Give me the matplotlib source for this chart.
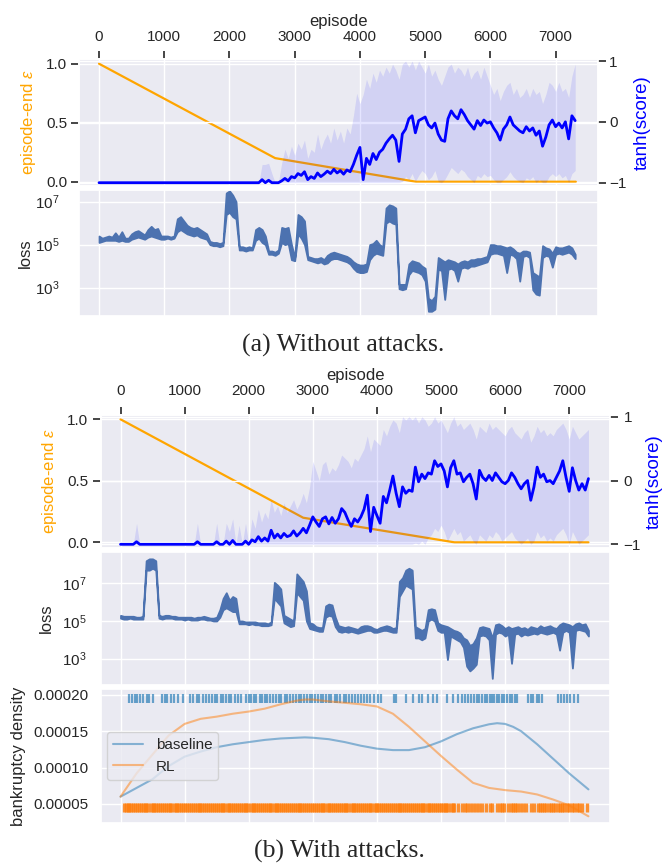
import numpy as np
import matplotlib
matplotlib.use('Agg')
import matplotlib.pyplot as plt
import seaborn as sns
from matplotlib.ticker import FormatStrFormatter, NullLocator

sns.set_theme(style='darkgrid')
plt.rcParams['font.family'] = ['Liberation Sans', 'DejaVu Sans']
plt.rcParams['mathtext.fontset'] = 'custom'
plt.rcParams['mathtext.rm'] = 'Liberation Sans'
plt.rcParams['mathtext.it'] = 'Liberation Sans:italic'

# episode grid shared by all per-episode series (one sample every 50 episodes)
EPISODES = np.arange(0, 7301, 50)
XTICKS = [0, 1000, 2000, 3000, 4000, 5000, 6000, 7000]

# ---------------- (a) without attacks ----------------
eps_a_ep = [0, 2700, 4860, 7310]
eps_a_val = [1.0, 0.2, 0.0, 0.0]

score_a = [
    -1.0, -1.0, -1.0, -1.0, -1.0, -1.0, -1.0, -1.0, -1.0, -1.0,
    -1.0, -1.0, -1.0, -1.0, -1.0, -1.0, -1.0, -1.0, -1.0, -1.0,
    -1.0, -1.0, -1.0, -1.0, -1.0, -1.0, -1.0, -1.0, -1.0, -1.0,
    -1.0, -1.0, -1.0, -1.0, -1.0, -1.0, -1.0, -1.0, -1.0, -1.0,
    -1.0, -1.0, -1.0, -1.0, -1.0, -1.0, -1.0, -1.0, -1.0, -1.0,
    -0.95, -1.0, -0.96, -1.0, -1.0, -1.0, -0.97, -0.93, -0.97, -0.90,
    -0.92, -0.85, -0.88, -0.82, -0.95, -0.90, -0.93, -0.84, -0.90, -0.86,
    -0.81, -0.85, -0.78, -0.84, -0.80, -0.86, -0.79, -0.82, -0.70, -0.55,
    -0.42, -0.95, -0.60, -0.70, -0.52, -0.62, -0.50, -0.45, -0.35, -0.28,
    -0.22, -0.30, -0.65, -0.20, -0.12, 0.05, 0.10, -0.18, 0.02, 0.05,
    0.08, -0.05, -0.10, -0.02, -0.20, -0.30, -0.32, 0.05, 0.18, 0.10,
    0.05, 0.20, 0.12, 0.02, -0.05, -0.12, 0.02, -0.06, 0.03, -0.02,
    0.00, -0.10, -0.18, -0.30, -0.12, -0.05, 0.08, -0.05, -0.10, -0.15,
    -0.18, -0.08, -0.15, -0.10, -0.22, -0.15, -0.40, -0.25, -0.05, 0.03,
    -0.08, -0.02, -0.10, 0.00, -0.28, 0.10, 0.02,
]
score_a_hi = [
    -1.0, -1.0, -1.0, -1.0, -1.0, -1.0, -1.0, -1.0, -1.0, -1.0,
    -1.0, -1.0, -1.0, -1.0, -1.0, -1.0, -1.0, -1.0, -1.0, -1.0,
    -1.0, -1.0, -1.0, -1.0, -1.0, -1.0, -1.0, -1.0, -1.0, -1.0,
    -1.0, -1.0, -1.0, -1.0, -1.0, -1.0, -1.0, -1.0, -1.0, -1.0,
    -1.0, -1.0, -1.0, -1.0, -1.0, -1.0, -1.0, -1.0, -1.0, -1.0,
    -0.70, -0.70, -0.68, -0.85, -1.0, -1.0, -0.68, -0.45, -0.60, -0.40,
    -0.55, -0.35, -0.45, -0.30, -0.60, -0.45, -0.50, -0.20, -0.45, -0.30,
    -0.20, -0.35, -0.10, -0.30, -0.15, -0.35, -0.10, -0.20, 0.10, 0.47,
    0.30, 0.45, 0.70, 0.55, 0.80, 0.65, 0.85, 0.75, 0.90, 0.80,
    0.95, 0.85, 0.70, 0.95, 1.00, 0.90, 1.00, 0.85, 1.00, 0.90,
    0.80, 0.95, 0.75, 0.85, 0.70, 0.60, 0.75, 0.90, 0.95, 0.80,
    0.90, 0.85, 0.75, 0.90, 0.70, 0.80, 0.85, 0.70, 0.90, 0.75,
    0.60, 0.45, 0.55, 0.35, 0.50, 0.60, 0.65, 0.45, 0.55, 0.40,
    0.45, 0.55, 0.40, 0.55, 0.45, 0.50, 0.30, 0.45, 0.65, 0.60,
    0.50, 0.65, 0.50, 0.55, 0.40, 0.75, 0.95,
]
score_a_lo = [
    -1.0, -1.0, -1.0, -1.0, -1.0, -1.0, -1.0, -1.0, -1.0, -1.0,
    -1.0, -1.0, -1.0, -1.0, -1.0, -1.0, -1.0, -1.0, -1.0, -1.0,
    -1.0, -1.0, -1.0, -1.0, -1.0, -1.0, -1.0, -1.0, -1.0, -1.0,
    -1.0, -1.0, -1.0, -1.0, -1.0, -1.0, -1.0, -1.0, -1.0, -1.0,
    -1.0, -1.0, -1.0, -1.0, -1.0, -1.0, -1.0, -1.0, -1.0, -1.0,
    -1.0, -1.0, -1.0, -1.0, -1.0, -1.0, -1.0, -1.0, -1.0, -1.0,
    -1.0, -1.0, -1.0, -1.0, -1.0, -1.0, -1.0, -1.0, -1.0, -1.0,
    -1.0, -1.0, -1.0, -1.0, -1.0, -1.0, -1.0, -1.0, -1.0, -1.0,
    -1.0, -1.0, -1.0, -1.0, -1.0, -1.0, -1.0, -1.0, -1.0, -1.0,
    -1.00, -1.00, -1.00, -0.98, -0.90, -0.95, -0.85, -0.98, -0.88, -0.80,
    -0.85, -0.95, -0.90, -0.80, -0.98, -1.00, -0.95, -0.85, -0.75, -0.80,
    -0.85, -0.78, -0.82, -0.90, -0.95, -1.00, -0.88, -0.92, -0.85, -0.90,
    -0.88, -0.95, -1.00, -1.00, -0.95, -0.90, -0.82, -0.90, -0.95, -0.98,
    -1.00, -0.92, -0.95, -0.90, -1.00, -0.95, -1.00, -1.00, -0.90, -0.85,
    -0.90, -0.85, -0.92, -0.88, -1.00, -0.85, -0.80,
]

# log10(loss): lower / upper envelope of the noisy trace
loss_a_lo = [
    5.10, 5.15, 5.20, 5.20, 5.20, 5.20, 5.15, 5.20, 5.15, 5.15,
    5.25, 5.30, 5.35, 5.30, 5.25, 5.35, 5.40, 5.35, 5.30, 5.25,
    5.25, 5.30, 5.25, 5.30, 5.60, 5.70, 5.60, 5.50, 5.45, 5.40,
    5.45, 5.35, 5.30, 5.25, 5.00, 4.95, 4.95, 4.90, 4.95, 6.40,
    6.50, 6.30, 6.20, 4.75, 4.75, 4.70, 4.75, 4.75, 5.20, 5.30,
    5.10, 5.00, 4.55, 4.55, 4.50, 4.60, 5.10, 5.00, 5.05, 4.30,
    4.25, 5.50, 5.30, 5.00, 4.30, 4.25, 4.20, 4.15, 4.20, 4.10,
    4.15, 4.30, 4.35, 4.35, 4.30, 4.25, 4.20, 4.10, 3.90, 3.75,
    3.70, 3.70, 3.75, 4.30, 4.50, 4.60, 4.55, 4.50, 6.00, 6.10,
    6.00, 5.95, 2.95, 2.90, 2.95, 3.60, 3.80, 3.75, 3.70, 3.60,
    3.30, 1.90, 1.90, 2.00, 3.85, 3.80, 2.45, 3.85, 3.90, 3.80,
    3.30, 3.90, 3.95, 3.90, 4.00, 4.00, 4.05, 4.10, 4.15, 4.20,
    4.55, 4.60, 4.60, 4.55, 4.50, 3.70, 4.55, 4.50, 4.35, 3.30,
    4.45, 4.50, 4.40, 2.90, 2.70, 2.65, 4.40, 4.50, 4.45, 3.95,
    4.55, 4.60, 4.55, 4.60, 4.65, 4.55, 4.35,
]
loss_a_hi = [
    5.40, 5.30, 5.35, 5.40, 5.35, 5.55, 5.35, 5.60, 5.30, 5.30,
    5.50, 5.60, 5.65, 5.55, 5.45, 5.70, 5.85, 5.70, 5.75, 5.40,
    5.40, 5.40, 5.35, 5.40, 6.20, 6.30, 6.10, 5.90, 5.80, 5.75,
    5.80, 5.70, 5.60, 5.50, 5.15, 5.10, 5.10, 5.05, 5.10, 7.40,
    7.50, 7.30, 7.00, 4.90, 4.90, 4.85, 4.90, 4.85, 5.70, 5.80,
    5.70, 5.40, 4.70, 4.70, 4.65, 4.75, 5.80, 5.75, 5.80, 5.00,
    4.40, 6.40, 6.30, 6.10, 4.45, 4.40, 4.35, 4.35, 4.40, 4.30,
    4.50, 4.60, 4.65, 4.60, 4.55, 4.50, 4.45, 4.35, 4.20, 4.10,
    4.05, 4.05, 4.10, 5.00, 5.05, 5.20, 5.00, 4.90, 6.70, 6.85,
    6.80, 6.70, 3.15, 3.15, 3.15, 4.10, 4.25, 4.20, 4.15, 4.00,
    3.90, 2.50, 2.40, 2.60, 4.40, 4.30, 4.20, 4.30, 4.25, 4.20,
    4.10, 4.20, 4.25, 4.20, 4.30, 4.30, 4.35, 4.35, 4.40, 4.45,
    5.00, 5.00, 4.95, 4.95, 4.90, 4.85, 4.90, 4.80, 4.65, 4.60,
    4.70, 4.70, 4.65, 3.70, 3.60, 3.50, 4.95, 4.85, 4.80, 4.60,
    4.90, 4.85, 4.85, 4.90, 4.95, 4.85, 4.55,
]

# ---------------- (b) with attacks ----------------
eps_b_ep = [0, 2850, 5210, 7300]
eps_b_val = [1.0, 0.2, 0.0, 0.0]

score_b = [
    -1.0, -1.0, -1.0, -1.0, -1.0, -0.96, -1.0, -1.0, -1.0, -1.0,
    -1.0, -1.0, -1.0, -1.0, -1.0, -1.0, -1.0, -1.0, -1.0, -1.0,
    -1.0, -1.0, -1.0, -1.0, -0.96, -1.0, -1.0, -1.0, -1.0, -1.0,
    -0.96, -1.0, -1.0, -0.95, -1.0, -0.94, -1.0, -1.0, -1.0, -0.95,
    -1.0, -0.93, -0.96, -0.88, -0.95, -0.90, -0.95, -0.78, -0.90, -0.84,
    -0.90, -0.83, -0.88, -0.86, -0.79, -0.87, -0.82, -0.75, -0.82, -0.70,
    -0.57, -0.65, -0.72, -0.60, -0.57, -0.68, -0.58, -0.67, -0.60, -0.44,
    -0.50, -0.62, -0.72, -0.60, -0.65, -0.57, -0.45, -0.23, -0.80, -0.42,
    -0.55, -0.67, -0.25, -0.35, -0.15, 0.07, -0.20, -0.41, -0.10, -0.20,
    -0.15, -0.17, 0.21, -0.02, 0.10, 0.03, 0.12, 0.10, 0.31, 0.22,
    0.26, 0.15, -0.10, 0.20, 0.31, 0.10, 0.12, -0.02, 0.05, 0.10,
    -0.05, -0.29, 0.16, 0.05, 0.00, 0.08, 0.00, 0.12, 0.05, -0.02,
    -0.05, 0.00, 0.12, 0.05, -0.05, -0.13, -0.05, 0.00, -0.31, -0.10,
    0.21, 0.05, 0.10, -0.02, 0.00, -0.05, 0.05, 0.15, 0.31, 0.05,
    -0.17, 0.20, 0.00, -0.15, -0.05, -0.15, 0.03,
]
score_b_hi = [
    -1.0, -1.0, -1.0, -1.0, -1.0, -0.67, -1.0, -1.0, -1.0, -1.0,
    -1.0, -1.0, -1.0, -1.0, -1.0, -1.0, -1.0, -1.0, -1.0, -1.0,
    -1.0, -1.0, -1.0, -1.0, -0.67, -1.0, -1.0, -1.0, -1.0, -1.0,
    -0.67, -1.0, -1.0, -0.67, -0.80, -0.60, -1.0, -0.70, -1.0, -0.67,
    -1.0, -0.60, -0.75, -0.45, -0.65, -0.50, -0.60, -0.30, -0.50, -0.40,
    -0.55, -0.35, -0.50, -0.40, -0.30, -0.45, -0.35, -0.20, -0.35, -0.10,
    0.30, 0.15, 0.00, 0.25, 0.30, 0.10, 0.20, 0.15, 0.25, 0.40,
    0.35, 0.30, 0.20, 0.35, 0.30, 0.40, 0.50, 0.70, 0.45, 0.65,
    0.60, 0.55, 0.80, 0.70, 0.85, 0.95, 0.90, 0.75, 1.00, 0.95,
    1.00, 0.95, 1.00, 0.90, 1.00, 0.95, 0.85, 0.90, 1.00, 0.90,
    0.95, 0.85, 0.75, 0.90, 1.00, 0.85, 0.90, 0.80, 0.85, 0.90,
    0.80, 0.65, 0.85, 0.80, 0.75, 0.90, 0.80, 0.85, 0.80, 0.75,
    0.70, 0.80, 0.85, 0.75, 0.70, 0.65, 0.75, 0.80, 0.60, 0.70,
    0.85, 0.75, 0.80, 0.70, 0.75, 0.70, 0.80, 0.85, 0.90, 0.80,
    0.65, 0.85, 0.75, 0.65, 0.70, 0.75, 0.80,
]
score_b_lo = [
    -1.0, -1.0, -1.0, -1.0, -1.0, -1.0, -1.0, -1.0, -1.0, -1.0,
    -1.0, -1.0, -1.0, -1.0, -1.0, -1.0, -1.0, -1.0, -1.0, -1.0,
    -1.0, -1.0, -1.0, -1.0, -1.0, -1.0, -1.0, -1.0, -1.0, -1.0,
    -1.0, -1.0, -1.0, -1.0, -1.0, -1.0, -1.0, -1.0, -1.0, -1.0,
    -1.0, -1.0, -1.0, -1.0, -1.0, -1.0, -1.0, -1.0, -1.0, -1.0,
    -1.0, -1.0, -1.0, -1.0, -1.0, -1.0, -1.0, -1.0, -1.0, -1.0,
    -1.0, -1.0, -1.0, -1.0, -1.0, -1.0, -1.0, -1.0, -1.0, -1.0,
    -1.0, -1.0, -1.0, -1.0, -1.0, -1.0, -1.0, -1.0, -1.0, -1.0,
    -1.0, -1.0, -1.0, -1.0, -1.0, -1.0, -1.0, -1.0, -1.0, -1.0,
    -1.00, -1.00, -0.98, -1.00, -0.95, -1.00, -0.90, -0.85, -0.75, -0.80,
    -0.70, -0.80, -0.95, -0.85, -0.75, -0.85, -0.80, -0.95, -0.90, -0.85,
    -0.95, -1.00, -0.85, -0.90, -0.95, -0.85, -0.90, -0.80, -0.85, -0.95,
    -0.90, -0.85, -0.80, -0.90, -0.95, -1.00, -0.95, -0.90, -1.00, -0.95,
    -0.80, -0.90, -0.85, -0.95, -0.90, -0.95, -0.85, -0.80, -0.75, -0.85,
    -1.00, -0.80, -0.90, -1.00, -0.95, -0.90, -0.85,
]

loss_b_lo = [
    5.15, 5.10, 5.10, 5.15, 5.10, 5.10, 5.10, 5.10, 7.70, 7.70,
    7.80, 7.70, 5.15, 5.10, 5.15, 5.15, 5.15, 5.10, 5.10, 5.10,
    5.05, 5.10, 5.05, 5.05, 5.05, 5.10, 5.10, 5.05, 5.05, 5.00,
    5.00, 5.20, 5.60, 5.70, 5.60, 5.50, 5.50, 4.85, 4.85, 4.85,
    4.80, 4.85, 4.80, 4.80, 4.75, 4.75, 4.75, 4.80, 6.20, 6.00,
    5.80, 4.90, 4.80, 4.70, 4.75, 6.50, 6.30, 6.10, 5.00, 4.60,
    4.55, 4.50, 4.45, 4.45, 5.20, 5.30, 5.25, 4.70, 4.45, 4.40,
    4.45, 4.40, 4.45, 4.40, 4.35, 4.40, 4.45, 4.50, 4.50, 4.40,
    4.40, 4.45, 4.50, 4.50, 4.45, 4.40, 4.40, 6.30, 6.60, 6.90,
    6.80, 6.70, 4.10, 4.10, 4.00, 4.10, 5.00, 5.10, 5.00, 4.50,
    4.40, 4.40, 2.95, 4.20, 4.10, 4.00, 3.90, 3.60, 2.60, 2.35,
    2.50, 2.70, 4.20, 4.25, 4.20, 4.00, 1.95, 4.30, 4.40, 4.35,
    4.20, 4.30, 2.75, 4.30, 4.35, 4.20, 4.30, 4.25, 4.30, 4.35,
    4.30, 4.40, 4.35, 4.30, 4.35, 4.40, 4.30, 3.45, 4.40, 4.50,
    4.40, 2.50, 4.50, 4.55, 4.50, 4.45, 4.20,
]
loss_b_hi = [
    5.30, 5.25, 5.25, 5.25, 5.25, 5.20, 5.20, 5.25, 8.20, 8.30,
    8.30, 8.20, 5.30, 5.25, 5.30, 5.30, 5.25, 5.25, 5.20, 5.20,
    5.20, 5.20, 5.20, 5.15, 5.20, 5.20, 5.25, 5.20, 5.15, 5.15,
    5.20, 5.60, 6.20, 6.50, 6.10, 6.30, 6.20, 5.00, 5.00, 4.95,
    4.95, 4.95, 4.95, 4.90, 4.90, 4.90, 4.85, 4.95, 7.05, 6.90,
    6.70, 5.30, 5.20, 5.10, 5.00, 7.50, 7.30, 7.10, 6.60, 4.90,
    4.85, 4.70, 4.65, 4.65, 5.80, 5.90, 5.85, 5.20, 4.75, 4.70,
    4.65, 4.70, 4.65, 4.60, 4.55, 4.70, 4.75, 4.75, 4.70, 4.60,
    4.55, 4.65, 4.70, 4.75, 4.70, 4.60, 4.65, 7.10, 7.30, 7.70,
    7.80, 7.70, 4.70, 4.60, 4.50, 4.60, 5.60, 5.65, 5.60, 4.90,
    4.80, 4.75, 4.70, 4.60, 4.50, 4.45, 4.35, 4.10, 4.00, 3.70,
    3.80, 4.10, 4.65, 4.70, 4.65, 4.60, 4.10, 4.80, 4.85, 4.75,
    4.60, 4.70, 4.60, 4.65, 4.70, 4.60, 4.65, 4.55, 4.70, 4.65,
    4.60, 4.75, 4.65, 4.70, 4.75, 4.65, 4.60, 4.80, 4.90, 4.85,
    4.80, 4.70, 4.85, 4.90, 4.80, 4.85, 4.50,
]

# bankruptcy densities and the episodes where bankruptcies happened
kde_ep = [0, 250, 500, 750, 1000, 1250, 1500, 1750, 2000, 2250, 2500, 2750,
          2875, 3000, 3250, 3500, 3750, 4000, 4250, 4500, 4750, 5000, 5250,
          5500, 5750, 5875, 6000, 6125, 6250, 6500, 6750, 7000, 7300]
kde_baseline = [6.0e-5, 7.2e-5, 8.4e-5, 10.2e-5, 11.5e-5, 12.2e-5, 12.8e-5,
                13.2e-5, 13.5e-5, 13.8e-5, 14.0e-5, 14.1e-5, 14.15e-5, 14.1e-5,
                13.9e-5, 13.5e-5, 13.0e-5, 12.6e-5, 12.4e-5, 12.4e-5, 12.8e-5,
                13.6e-5, 14.6e-5, 15.4e-5, 15.95e-5, 16.1e-5, 16.0e-5, 15.6e-5,
                15.0e-5, 13.2e-5, 11.2e-5, 9.2e-5, 7.0e-5]
kde_rl = [6.0e-5, 9.2e-5, 11.8e-5, 14.4e-5, 16.0e-5, 16.7e-5, 17.0e-5,
          17.4e-5, 17.7e-5, 18.1e-5, 18.7e-5, 19.2e-5, 19.35e-5, 19.35e-5,
          19.1e-5, 18.9e-5, 18.7e-5, 18.4e-5, 17.4e-5, 15.6e-5, 13.6e-5,
          11.6e-5, 9.7e-5, 7.9e-5, 7.2e-5, 7.05e-5, 6.9e-5, 6.8e-5, 6.7e-5,
          6.3e-5, 5.6e-5, 4.8e-5, 3.3e-5]

rug_baseline = [
    140, 180, 230, 260, 300, 350, 420, 450, 510, 640, 690, 730, 790, 830,
    900, 980, 1080, 1130, 1190, 1220, 1290, 1330, 1380, 1420, 1470, 1510,
    1560, 1600, 1650, 1690, 1730, 1780, 1830, 1880, 1950, 2000, 2040, 2080,
    2120, 2170, 2210, 2250, 2290, 2330, 2380, 2420, 2470, 2510, 2560, 2600,
    2640, 2690, 2730, 2780, 2820, 2860, 2910, 2950, 2990, 3030, 3080, 3120,
    3160, 3210, 3250, 3290, 3340, 3380, 3430, 3480, 3520, 3570, 3610, 3660,
    3700, 3750, 3800, 3850, 3900, 3960, 4010, 4060, 4270, 4300, 4450, 4560,
    4650, 4700, 4800, 4870, 4930, 5100, 5180, 5260, 5330, 5380, 5420, 5470,
    5510, 5560, 5600, 5640, 5690, 5720, 5760, 5800, 5830, 5870, 5910, 5950,
    5990, 6030, 6080, 6110, 6150, 6190, 6350, 6400, 6440, 6490, 6530, 6570,
    6820, 6870, 6920, 6970, 7020, 7080, 7130,
]
rug_rl = [
    55, 80, 110, 140, 165, 195, 230, 260, 285, 315, 350, 380, 405, 435, 470,
    500, 525, 555, 590, 620, 645, 675, 710, 740, 765, 795, 830, 860, 885, 915,
    950, 980, 1005, 1035, 1070, 1100, 1125, 1155, 1190, 1220, 1245, 1275,
    1310, 1340, 1365, 1395, 1430, 1460, 1485, 1515, 1550, 1580, 1605, 1635,
    1670, 1700, 1725, 1755, 1790, 1820, 1845, 1875, 1910, 1940, 1965, 1995,
    2030, 2060, 2085, 2115, 2150, 2180, 2205, 2235, 2270, 2300, 2325, 2355,
    2390, 2420, 2445, 2475, 2510, 2540, 2565, 2595, 2630, 2660, 2685, 2715,
    2750, 2780, 2805, 2835, 2870, 2900, 2925, 2955, 2990, 3020, 3045, 3075,
    3110, 3140, 3165, 3195, 3230, 3260, 3285, 3315, 3350, 3380, 3405, 3435,
    3470, 3500, 3525, 3555, 3590, 3620, 3645, 3675, 3710, 3740, 3765, 3795,
    3830, 3860, 3885, 3915, 3950, 3980, 4005, 4035, 4070, 4100, 4125, 4155,
    4190, 4220, 4245, 4275, 4310, 4340, 4365, 4395, 4430, 4460, 4485, 4515,
    4550, 4580, 4605, 4635, 4670, 4700, 4725, 4755, 4790, 4820, 4845, 4875,
    4910, 4940, 4965, 4995, 5030, 5060, 5085, 5115, 5150, 5180, 5210,
    5270, 5320, 5370, 5400, 5450, 5500, 5540, 5590, 5640, 5700, 5760, 5800,
    5880, 5920, 5950, 5990, 6040, 6090, 6120, 6150, 6180, 6230, 6280, 6330,
    6400, 6450, 6520, 6550, 6580, 6610, 6640, 6680, 6710, 6740, 6780, 6820,
    6850, 6880, 6920, 6960, 7000, 7040, 7080, 7120, 7160, 7200, 7280,
]

LOSS_COLOR = '#4C72B0'
W, H = 662, 863
fig = plt.figure(figsize=(W / 100, H / 100), dpi=100)


def add_axes_px(left, top, right, bottom):
    return fig.add_axes([left / W, 1 - bottom / H, (right - left) / W, (bottom - top) / H])


def score_panel(box, xlim, ylim_eps, ylim_score, eps_ep, eps_val, mean, lo, hi,
                tick_len, xpad, ypads, label_x):
    ax = add_axes_px(*box)
    ax.plot(eps_ep, eps_val, color='orange', lw=1.6)
    ax.set_xlim(xlim)
    ax.set_ylim(ylim_eps)
    ax.set_xticks(XTICKS)
    ax.set_yticks([0.0, 0.5, 1.0])
    ax.yaxis.set_major_formatter(FormatStrFormatter('%.1f'))
    ax.xaxis.tick_top()
    ax.xaxis.set_label_position('top')
    ax.set_xlabel('episode', fontsize=12, labelpad=3)
    ax.tick_params(axis='x', top=True, bottom=False, direction='out', length=tick_len,
                   width=1.2, color='.15', labelsize=11, pad=xpad)
    ax.tick_params(axis='y', left=True, direction='out', length=tick_len, width=1.2,
                   color='.15', labelsize=11, pad=ypads[0])
    ax.set_ylabel(r'episode-end $\varepsilon$', color='orange', fontsize=12, va='center')
    ax.yaxis.set_label_coords(label_x[0], 0.5)

    tw = ax.twinx()
    tw.fill_between(EPISODES, lo, hi, color='blue', alpha=0.1, lw=0)
    tw.plot(EPISODES, mean, color='blue', lw=2.0)
    tw.set_ylim(ylim_score)
    tw.set_yticks([-1, 0, 1])
    tw.tick_params(axis='y', right=True, direction='out', length=tick_len, width=1.2,
                   color='.15', labelsize=11, pad=ypads[1])
    tw.set_ylabel('tanh(score)', color='blue', fontsize=13.5, va='center')
    tw.yaxis.set_label_coords(label_x[1], 0.5)
    return ax


def loss_panel(box, xlim, ylim, lo, hi, ypad, label_x):
    ax = add_axes_px(*box)
    ax.fill_between(EPISODES, 10.0 ** np.array(lo), 10.0 ** np.array(hi),
                    facecolor=LOSS_COLOR, edgecolor=LOSS_COLOR, lw=1.3)
    ax.set_yscale('log')
    ax.set_xlim(xlim)
    ax.set_ylim(ylim)
    ax.set_xticks(XTICKS)
    ax.set_yticks([1e3, 1e5, 1e7])
    ax.yaxis.set_minor_locator(NullLocator())
    ax.tick_params(axis='x', length=0, labelbottom=False, labeltop=False)
    ax.tick_params(axis='y', length=0, labelsize=11, pad=ypad)
    ax.set_ylabel('loss', fontsize=12, va='center')
    ax.yaxis.set_label_coords(label_x, 0.5)
    return ax


# (a) training curves without attacks
score_panel((79, 59, 598, 185.5), (-307, 7650), (-0.032, 1.040), (-1.046, 1.033),
            eps_a_ep, eps_a_val, score_a, score_a_lo, score_a_hi,
            tick_len=5.5, xpad=5.5, ypads=(3, 2.5), label_x=(-0.098, 1.086))
loss_panel((79, 190, 598, 316), (-307, 7650), (10 ** 1.68, 10 ** 7.54),
           loss_a_lo, loss_a_hi, ypad=14, label_x=-0.104)
fig.text(343.5 / W, 1 - 345 / H, '(a) Without attacks.', fontfamily='Liberation Serif',
         fontsize=18.5, ha='center', va='center')

# (b) training curves with attacks
score_panel((100.7, 415, 610.3, 548), (-309, 7641), (-0.046, 1.035), (-1.058, 1.027),
            eps_b_ep, eps_b_val, score_b, score_b_lo, score_b_hi,
            tick_len=6, xpad=6, ypads=(3, 3.5), label_x=(-0.0995, 1.086))
loss_panel((100.7, 551.7, 610.3, 685), (-309, 7641), (10 ** 1.6, 10 ** 8.68),
           loss_b_lo, loss_b_hi, ypad=10, label_x=-0.106)

bank = add_axes_px(100.7, 689, 610.3, 822.7)
bank.vlines(rug_baseline, 1.89e-4, 2.01e-4, color='#1f77b4', alpha=0.65, lw=1.6)
bank.vlines(rug_rl, 3.94e-5, 5.1e-5, color='#ff7f0e', alpha=0.85, lw=2.4)
bank.plot(kde_ep, kde_baseline, color='#1f77b4', alpha=0.5, lw=1.5, label='baseline')
bank.plot(kde_ep, kde_rl, color='#ff7f0e', alpha=0.5, lw=1.5, label='RL')
bank.set_xlim(-309, 7641)
bank.set_ylim(2.42e-5, 2.08e-4)
bank.set_xticks(XTICKS)
bank.set_yticks([5e-5, 1e-4, 1.5e-4, 2e-4])
bank.yaxis.set_major_formatter(FormatStrFormatter('%.5f'))
bank.tick_params(axis='x', length=0, labelbottom=False)
bank.tick_params(axis='y', length=0, labelsize=11, pad=9)
bank.set_ylabel('bankruptcy density', fontsize=12, va='center')
bank.yaxis.set_label_coords(-0.161, 0.5)
bank.legend(loc='upper left', bbox_to_anchor=(0.012, 0.68), borderaxespad=0, fontsize=11)

fig.text(339.5 / W, 1 - 851 / H, '(b) With attacks.', fontfamily='Liberation Serif',
         fontsize=18.5, ha='center', va='center')

fig.savefig('out.png', dpi=100)
